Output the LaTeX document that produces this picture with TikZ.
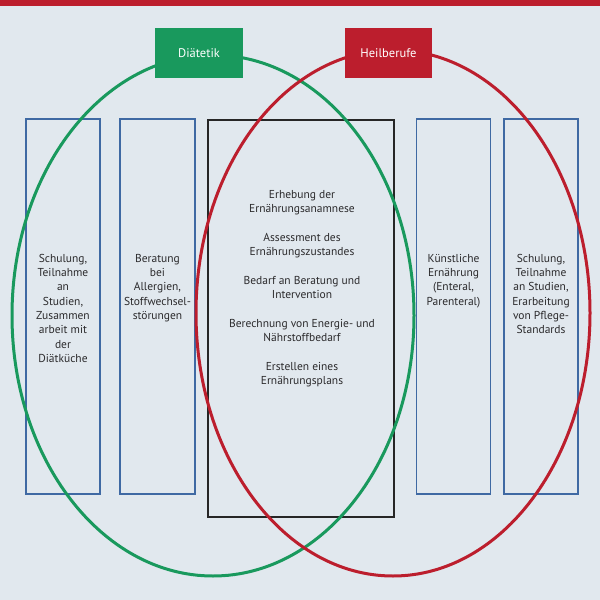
\documentclass[tikz,border=0pt]{standalone}
\usepackage{fontspec}
\setmainfont{PT Sans}
\definecolor{bgc}{HTML}{E1E8EE}
\definecolor{redc}{HTML}{BC1E2D}
\definecolor{greenc}{HTML}{19995D}
\definecolor{bluec}{HTML}{3F69A3}
\definecolor{txtc}{HTML}{2B2A2C}
\begin{document}
\begin{tikzpicture}[x=1pt,y=-1pt,
  bluebox/.style={draw=bluec, line width=1.5pt, minimum width=74pt, minimum height=375pt, inner sep=0pt},
  blackbox/.style={draw=black!85, line width=1.6pt, minimum width=186pt, minimum height=397pt, inner sep=0pt},
  boxtext/.style={anchor=north, align=center, inner sep=0pt, text=txtc, font=\fontsize{11.5}{14.3}\selectfont},
  headbox/.style={minimum width=88pt, minimum height=50pt, inner sep=0pt, text=white, font=\fontsize{12.5}{15}\selectfont},
  ring/.style={line width=3pt}]
\fill[bgc] (0,0) rectangle (600,600);
\useasboundingbox (0,0) rectangle (600,600);
\fill[redc] (0,0) rectangle (600,5.5);
% boxes
\node[bluebox] (b1) at (63,306.5) {};
\node[bluebox, minimum width=75pt] (b2) at (157.5,306.5) {};
\node[blackbox] (c) at (301,318.5) {};
\node[bluebox] (b4) at (453.5,306.5) {};
\node[bluebox] (b5) at (541,306.5) {};
% texts
\node[boxtext] (t1) at (63,254) {Schulung,\\Teilnahme\\an\\Studien,\\Zusammen\\arbeit mit\\der\\Diätküche};
\node[boxtext] (t2) at (157.5,254) {Beratung\\bei\\Allergien,\\Stoffwechsel-\\störungen};
\node[boxtext] (t4) at (453.5,254) {Künstliche\\Ernährung\\(Enteral,\\Parenteral)};
\node[boxtext] (t5) at (541,254) {Schulung,\\Teilnahme\\an Studien,\\Erarbeitung\\von Pflege-\\Standards};
\node[boxtext, font=\fontsize{11.5}{14.5}\selectfont] (tc) at (302,190) {Erhebung der\\Ernährungsanamnese\\[14pt]Assessment des\\Ernährungszustandes\\[14pt]Bedarf an Beratung und\\Intervention\\[14pt]Berechnung von Energie- und\\Nährstoffbedarf\\[14pt]Erstellen eines\\Ernährungsplans};
% ellipses
\draw[ring, greenc] (213,315.5) ellipse [x radius=201pt, y radius=260.5pt];
\draw[ring, redc] (393,313) ellipse [x radius=197pt, y radius=263pt];
% header boxes
\node[headbox, fill=greenc] (d) at (199,53) {Diätetik};
\node[headbox, fill=redc, minimum width=87pt] (h) at (388.5,53) {Heilberufe};
\end{tikzpicture}
\end{document}
